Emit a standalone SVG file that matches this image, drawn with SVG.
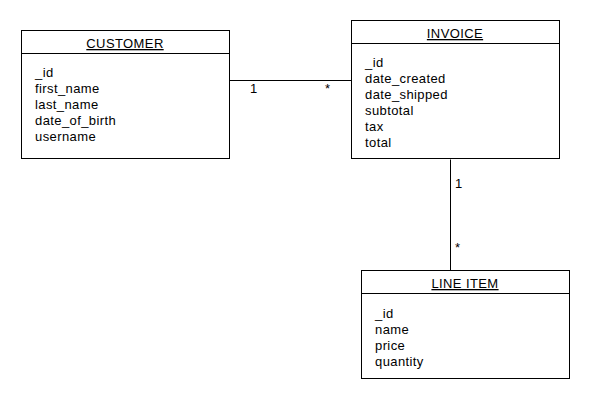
<svg xmlns="http://www.w3.org/2000/svg" width="590" height="400" viewBox="0 0 590 400">
<style>
.box{fill:#fff;stroke:#000;stroke-width:1}
.line{stroke:#000;stroke-width:1;fill:none}
text{font-family:"Liberation Sans",Arial,sans-serif;font-size:13px;fill:#000;letter-spacing:0.4px}
.title{text-anchor:middle;text-decoration:underline}
</style>
<rect width="590" height="400" fill="#fff"/>
<g id="connectors">
<line class="line" x1="229.5" y1="80.5" x2="351.5" y2="80.5"/>
<line class="line" x1="450.5" y1="159.5" x2="450.5" y2="270.5"/>
<text x="250" y="93">1</text>
<text x="325" y="93">*</text>
<text x="455" y="188">1</text>
<text x="455" y="252">*</text>
</g>
<g id="customer">
<rect class="box" x="21.5" y="30.5" width="208" height="128"/>
<line class="line" x1="21.5" y1="53.5" x2="229.5" y2="53.5"/>
<text class="title" x="125" y="48">CUSTOMER</text>
<text x="35" y="77">_id</text>
<text x="35" y="93">first_name</text>
<text x="35" y="109">last_name</text>
<text x="35" y="125">date_of_birth</text>
<text x="35" y="141">username</text>
</g>
<g id="invoice">
<rect class="box" x="351.5" y="20.5" width="208" height="138"/>
<line class="line" x1="351.5" y1="43.5" x2="559.5" y2="43.5"/>
<text class="title" x="455" y="38">INVOICE</text>
<text x="365" y="67">_id</text>
<text x="365" y="83">date_created</text>
<text x="365" y="99">date_shipped</text>
<text x="365" y="115">subtotal</text>
<text x="365" y="131">tax</text>
<text x="365" y="147">total</text>
</g>
<g id="lineitem">
<rect class="box" x="361.5" y="270.5" width="208" height="108"/>
<line class="line" x1="361.5" y1="293.5" x2="569.5" y2="293.5"/>
<text class="title" x="465" y="288">LINE ITEM</text>
<text x="375" y="318">_id</text>
<text x="375" y="334">name</text>
<text x="375" y="350">price</text>
<text x="375" y="366">quantity</text>
</g>
</svg>
